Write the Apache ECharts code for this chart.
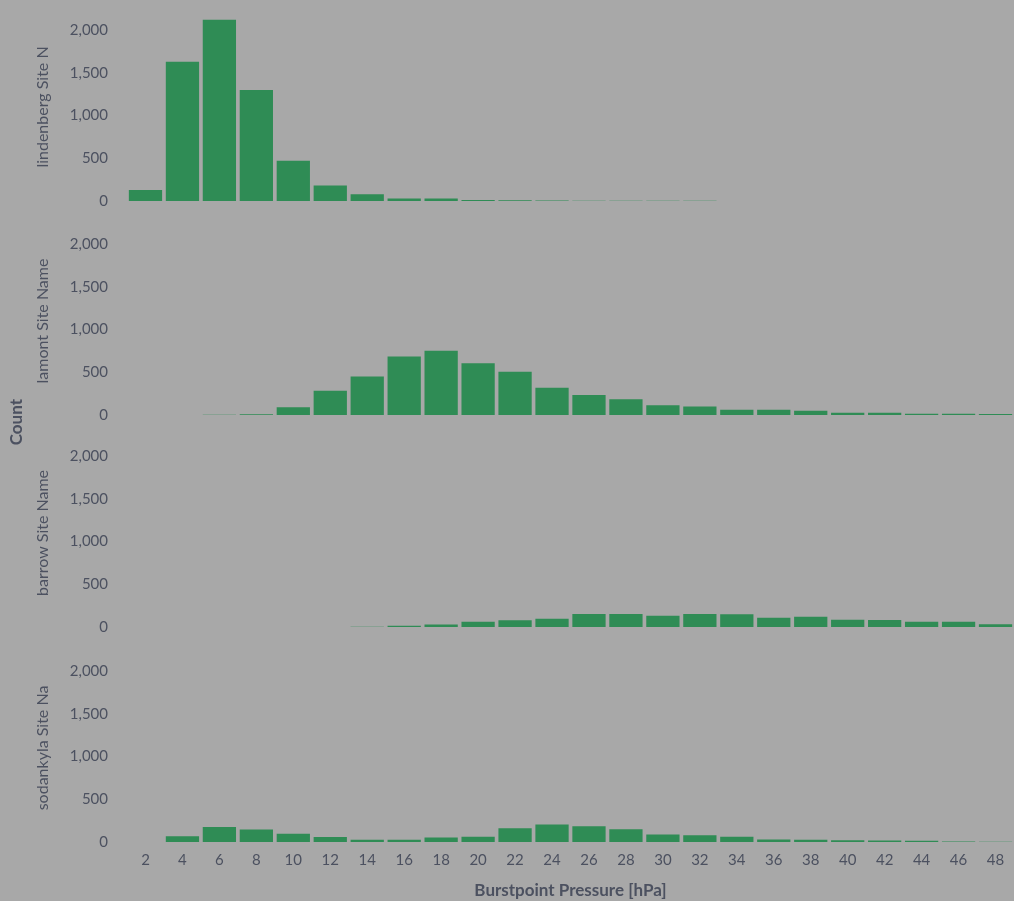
<!DOCTYPE html>
<html>
<head>
<meta charset="utf-8">
<script src="https://cdn.jsdelivr.net/npm/echarts@6/dist/echarts.min.js"></script>
<style>
html,body{margin:0;padding:0;background:#a8a8a8;}
#chart{width:1014px;height:901px;}
</style>
</head>
<body>
<div id="chart"></div>
<script>
const categories = ['2','4','6','8','10','12','14','16','18','20','22','24','26','28','30','32','34','36','38','40','42','44','46','48'];
const panelNames = ['lindenberg Site N', 'lamont Site Name', 'barrow Site Name', 'sodankyla Site Na'];
const lindenberg = [130,1630,2120,1300,470,180,80,30,30,12,8,6,4,3,2,2,1,1,1,1,1,1,1,1];
const lamont     = [0,0,3,8,90,284,450,685,752,605,507,320,234,184,115,100,62,60,50,27,27,15,15,12];
const barrow     = [0,0,0,0,0,0,3,15,30,62,80,97,152,152,132,152,148,109,120,85,82,62,62,32];
const sodankyla  = [0,67,176,145,98,59,27,25,53,60,160,205,185,150,87,80,60,30,25,20,18,15,5,3];
const yTicks = [0,500,1000,1500,2000];
const seriesData = [lindenberg, lamont, barrow, sodankyla];

const zeroLines = [201, 415, 627, 842];
const plotH = 188;
const textColor = '#4c5160';
const font = 'Lato';

const grids = [], xAxes = [], yAxes = [], series = [];
seriesData.forEach((d, i) => {
  grids.push({left: 127, right: 0, top: zeroLines[i] - plotH, height: plotH});
  xAxes.push({
    type: 'category', gridIndex: i, data: categories,
    axisLine: {show: false}, axisTick: {show: false},
    axisLabel: {show: i === 3, color: textColor, fontFamily: font, fontSize: 15, margin: 11},
    name: i === 3 ? 'Burstpoint Pressure [hPa]' : '',
    nameLocation: 'middle', nameGap: 40,
    nameTextStyle: {color: textColor, fontFamily: font, fontSize: 17, fontWeight: 'bold'}
  });
  yAxes.push({
    type: 'value', gridIndex: i, min: 0, max: 2200, interval: 500,
    axisLine: {show: false}, axisTick: {show: false},
    splitLine: {show: false},
    axisLabel: {color: textColor, fontFamily: font, fontSize: 15, margin: 19, showMaxLabel: false,
      formatter: v => yTicks.includes(v) ? v.toLocaleString('en-US') : ''},
    name: panelNames[i], nameLocation: 'middle', nameGap: 76,
    nameTextStyle: {color: textColor, fontFamily: font, fontSize: 16}
  });
  series.push({
    type: 'bar', xAxisIndex: i, yAxisIndex: i, data: d,
    barCategoryGap: '10%',
    itemStyle: {color: '#2f8c55'}
  });
});

const chart = echarts.init(document.getElementById('chart'));
chart.setOption({
  backgroundColor: '#a8a8a8',
  animation: false,
  grid: grids, xAxis: xAxes, yAxis: yAxes, series: series,
  graphic: [{
    type: 'text', left: 8, top: 399, rotation: Math.PI / 2,
    style: {text: 'Count', fill: textColor, font: 'bold 17px Lato'}
  }]
});
</script>
</body>
</html>
